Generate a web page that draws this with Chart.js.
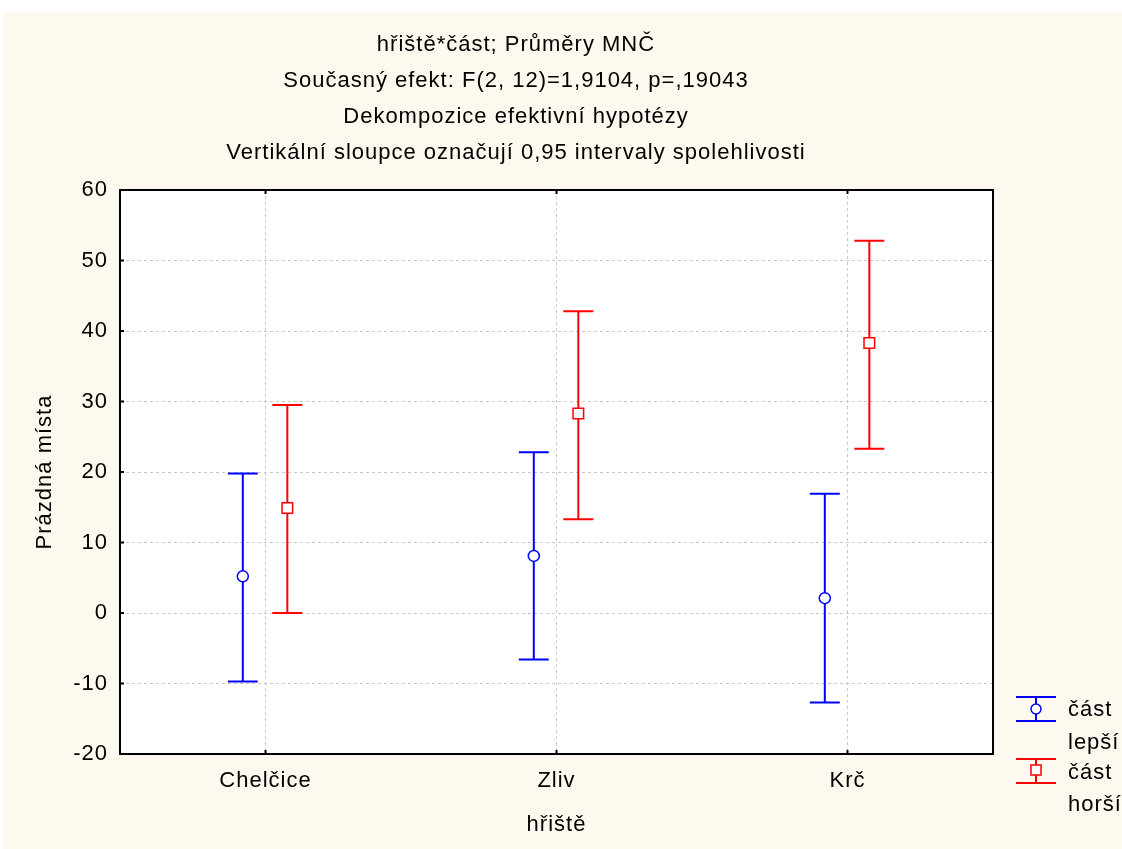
<!DOCTYPE html>
<html>
<head>
<meta charset="utf-8">
<title>hřiště*část; Průměry MNČ</title>
<script src="https://cdn.jsdelivr.net/npm/chart.js@4/dist/chart.umd.min.js"></script>
<style>
  body { margin: 0; background: #ffffff; }
  canvas { display: block; }
</style>
</head>
<body>
<canvas id="chart" width="1122" height="849"></canvas>
<script>
const categories = ['Chelčice', 'Zliv', 'Krč'];

// část lepší
const lepsiMean = [5.2, 8.1, 2.1];
const lepsiLow = [-9.7, -6.6, -12.7];
const lepsiHigh = [19.8, 22.8, 16.9];

// část horší
const horsiMean = [14.9, 28.3, 38.3];
const horsiLow = [0.0, 13.3, 23.3];
const horsiHigh = [29.5, 42.8, 52.8];

const yTicks = [-20, -10, 0, 10, 20, 30, 40, 50, 60];

const titleLines = [
  'hřiště*část; Průměry MNČ',
  'Současný efekt: F(2, 12)=1,9104, p=,19043',
  'Dekompozice efektivní hypotézy',
  'Vertikální sloupce označují 0,95 intervaly spolehlivosti'
];

const FONT = '"Liberation Sans", Arial, sans-serif';
const BLUE = '#0000ff';
const RED = '#ff0000';
const CREAM = '#fdf9ef';

// dataset built from the arrays, shifted left/right of each category
const toPoints = (vals, shift) => vals.map((v, i) => ({ x: i + 1 + shift, y: v }));

const series = [
  { label: 'část lepší', mean: lepsiMean, low: lepsiLow, high: lepsiHigh, color: BLUE, shift: -0.078, style: 'circle', radius: 5.5 },
  { label: 'část horší', mean: horsiMean, low: horsiLow, high: horsiHigh, color: RED, shift: 0.075, style: 'rect', radius: 7.5 }
];

const backgroundPlugin = {
  id: 'background',
  beforeDraw(chart) {
    const { ctx, chartArea } = chart;
    ctx.letterSpacing = '1px';
    ctx.save();
    ctx.fillStyle = CREAM;
    ctx.fillRect(3, 12, chart.width - 3, chart.height - 12);
    ctx.fillStyle = '#ffffff';
    ctx.fillRect(chartArea.left, chartArea.top, chartArea.right - chartArea.left, chartArea.bottom - chartArea.top);

    // title lines
    ctx.fillStyle = '#000000';
    ctx.font = '22px ' + FONT;
    ctx.textAlign = 'center';
    ctx.textBaseline = 'middle';
    const cx = 516;
    titleLines.forEach((t, i) => ctx.fillText(t, cx, 45 + i * 36));
    ctx.restore();
  }
};

const errorBarPlugin = {
  id: 'errorBars',
  beforeDatasetsDraw(chart) {
    const { ctx, scales } = chart;
    const xs = scales.x, ys = scales.y;
    ctx.save();
    ctx.lineWidth = 2;
    series.forEach(s => {
      ctx.strokeStyle = s.color;
      s.mean.forEach((m, i) => {
        const px = xs.getPixelForValue(i + 1 + s.shift);
        const top = ys.getPixelForValue(s.high[i]);
        const bot = ys.getPixelForValue(s.low[i]);
        ctx.beginPath();
        ctx.moveTo(px, top);
        ctx.lineTo(px, bot);
        ctx.moveTo(px - 15, top);
        ctx.lineTo(px + 15, top);
        ctx.moveTo(px - 15, bot);
        ctx.lineTo(px + 15, bot);
        ctx.stroke();
      });
    });
    ctx.restore();
  },
  afterDraw(chart) {
    const { ctx, chartArea, scales } = chart;
    ctx.save();
    // plot frame
    ctx.strokeStyle = '#000000';
    ctx.lineWidth = 2;
    ctx.strokeRect(chartArea.left, chartArea.top, chartArea.right - chartArea.left, chartArea.bottom - chartArea.top);
    // small inward tick marks
    ctx.beginPath();
    scales.x.ticks.forEach(t => {
      const px = scales.x.getPixelForValue(t.value);
      ctx.moveTo(px, chartArea.top); ctx.lineTo(px, chartArea.top + 4);
      ctx.moveTo(px, chartArea.bottom); ctx.lineTo(px, chartArea.bottom - 4);
    });
    scales.y.ticks.forEach(t => {
      const py = scales.y.getPixelForValue(t.value);
      ctx.moveTo(chartArea.left, py); ctx.lineTo(chartArea.left + 4, py);
    });
    ctx.stroke();

    // legend
    const lx = 1036;
    const rows = [
      { s: series[0], y1: 697, y2: 721, mark: 709, t1: 710, t2: 743 },
      { s: series[1], y1: 759, y2: 783, mark: 770, t1: 773, t2: 805 }
    ];
    rows.forEach(r => {
      ctx.strokeStyle = r.s.color;
      ctx.lineWidth = 2;
      ctx.beginPath();
      ctx.moveTo(lx, r.y1); ctx.lineTo(lx, r.y2);
      ctx.moveTo(lx - 20, r.y1); ctx.lineTo(lx + 20, r.y1);
      ctx.moveTo(lx - 20, r.y2); ctx.lineTo(lx + 20, r.y2);
      ctx.stroke();
      ctx.fillStyle = '#ffffff';
      ctx.lineWidth = 1.5;
      ctx.beginPath();
      if (r.s.style === 'circle') {
        ctx.arc(lx, r.mark, 5, 0, Math.PI * 2);
      } else {
        ctx.rect(lx - 5, r.mark - 5, 10, 10);
      }
      ctx.fill();
      ctx.stroke();
      const words = r.s.label.split(' ');
      ctx.fillStyle = '#000000';
      ctx.font = '22px ' + FONT;
      ctx.textAlign = 'left';
      ctx.textBaseline = 'middle';
      ctx.fillText(words[0], 1068, r.t1);
      ctx.fillText(words[1], 1068, r.t2);
    });
    ctx.restore();
  }
};

new Chart(document.getElementById('chart'), {
  type: 'scatter',
  data: {
    datasets: series.map(s => ({
      label: s.label,
      data: toPoints(s.mean, s.shift),
      pointStyle: s.style,
      pointRadius: s.radius,
      pointHoverRadius: s.radius,
      pointBackgroundColor: '#ffffff',
      pointBorderColor: s.color,
      pointBorderWidth: 1.5,
      showLine: false
    }))
  },
  options: {
    responsive: false,
    animation: false,
    devicePixelRatio: 1,
    layout: { padding: { left: 0, top: 190, right: 129, bottom: 0 } },
    plugins: {
      legend: { display: false },
      title: { display: false },
      tooltip: { enabled: false }
    },
    scales: {
      x: {
        type: 'linear',
        min: 0.5,
        max: 3.5,
        afterBuildTicks: axis => { axis.ticks = categories.map((c, i) => ({ value: i + 1 })); },
        afterFit: axis => { axis.height = 95; },
        ticks: {
          callback: v => categories[v - 1],
          color: '#000000',
          font: { family: FONT, size: 22 },
          padding: 14,
          maxRotation: 0
        },
        grid: { color: '#c8c8c8', drawTicks: false, lineWidth: 1 },
        border: { display: false, dash: [3, 3] },
        title: {
          display: true,
          text: 'hřiště',
          color: '#000000',
          font: { family: FONT, size: 22, lineHeight: 1.2 },
          padding: { top: 0, bottom: 11 }
        }
      },
      y: {
        min: -20,
        max: 60,
        afterBuildTicks: axis => { axis.ticks = yTicks.map(v => ({ value: v })); },
        afterFit: axis => { axis.width = 120; },
        ticks: {
          color: '#000000',
          font: { family: FONT, size: 22 },
          padding: 12
        },
        grid: { color: '#c8c8c8', drawTicks: false, lineWidth: 1 },
        border: { display: false, dash: [3, 3] },
        title: {
          display: true,
          text: 'Prázdná místa',
          color: '#000000',
          font: { family: FONT, size: 22, lineHeight: 1.2 },
          padding: { top: 32, bottom: 0 }
        }
      }
    }
  },
  plugins: [backgroundPlugin, errorBarPlugin]
});
</script>
</body>
</html>
